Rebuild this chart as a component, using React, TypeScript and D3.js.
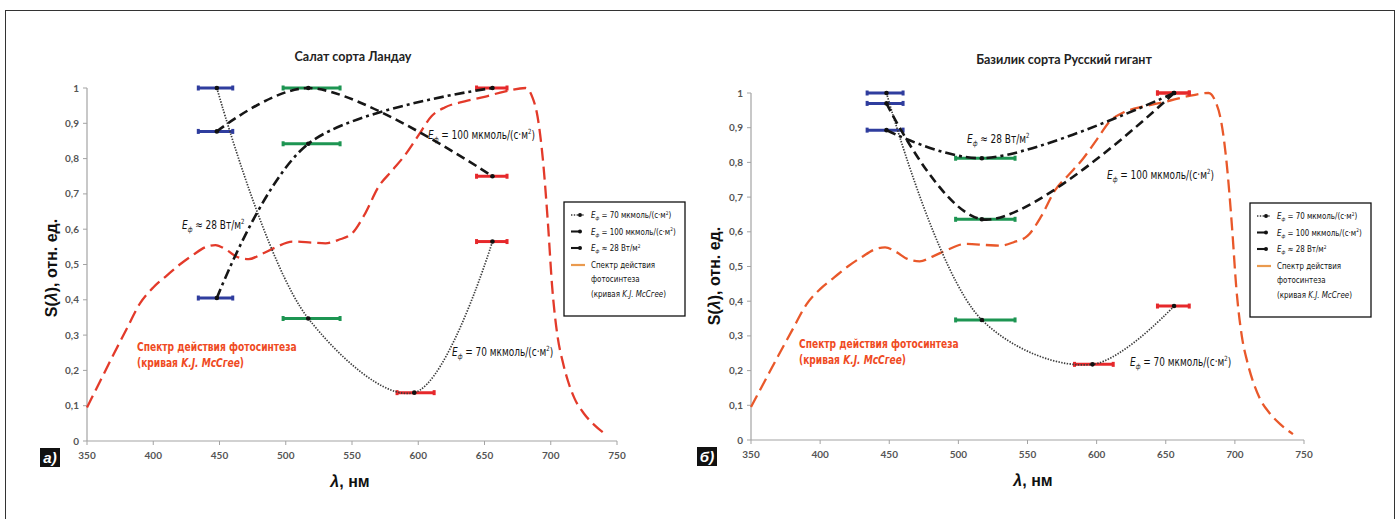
import React from "react";
import * as d3 from "d3";

// axis ticks
const wavelengthTicks = [350, 400, 450, 500, 550, 600, 650, 700, 750];
const valueTicks = [0, 0.1, 0.2, 0.3, 0.4, 0.5, 0.6, 0.7, 0.8, 0.9, 1];
const valueTickLabels = ["0", "0,1", "0,2", "0,3", "0,4", "0,5", "0,6", "0,7", "0,8", "0,9", "1"];

// LED bands: peak wavelength and spectral width, nm
const ledPeak = [448, 517, 597, 656];
const ledFrom = [434, 498, 584, 644];
const ledTo = [460, 541, 612, 667];
const ledColor = ["#2f3d9e", "#1d9552", "#e6282b", "#e6282b"];

// McCree photosynthesis action spectrum
const mccreeNm = [350, 360, 370, 380, 390, 400, 410, 420, 430, 440, 447, 455, 463, 472, 482, 492, 505, 520, 530, 540, 550, 560, 570, 580, 590, 600, 610, 620, 635, 650, 665, 681, 686, 690, 694, 698, 701, 705, 709, 713, 718, 725, 733, 742];
const mccreeVal = [0.095, 0.17, 0.245, 0.318, 0.39, 0.435, 0.468, 0.5, 0.527, 0.55, 0.555, 0.542, 0.522, 0.515, 0.53, 0.548, 0.565, 0.562, 0.56, 0.57, 0.588, 0.645, 0.72, 0.765, 0.81, 0.865, 0.92, 0.945, 0.962, 0.975, 0.99, 1.0, 0.975, 0.92, 0.8, 0.61, 0.44, 0.3, 0.225, 0.17, 0.12, 0.078, 0.045, 0.017];

// bands used by each series
const bandsE70 = [0, 1, 2, 3];
const bandsE100 = [0, 1, 3];
const bandsE28 = [0, 1, 3];

// lettuce "Ландау"
const lettuceE70 = [1.0, 0.347, 0.137, 0.565];
const lettuceE100 = [0.877, 1.0, 0.75];
const lettuceE28 = [0.405, 0.842, 1.0];

// basil "Русский гигант"
const basilE70 = [1.0, 0.346, 0.218, 0.386];
const basilE100 = [0.97, 0.636, 1.0];
const basilE28 = [0.893, 0.812, 1.0];

const NARROW = "'Liberation Sans Narrow', 'DejaVu Sans Condensed', 'Liberation Sans', sans-serif";
const SANS = "'Liberation Sans', Arial, sans-serif";
const TICKF = "Lato, 'Open Sans', sans-serif";

const styles = {
  e70: { stroke: "#3b3b3b", width: 1.7, dash: "1.4,1.4" },
  e100: { stroke: "#161616", width: 2.6, dash: "9,5" },
  e28: { stroke: "#161616", width: 2.6, dash: "10,4,3,4" },
};

// E with subscript ф, drawn horizontally condensed like Arial Narrow
const EPhi = ({ x, y, size, pre, sup, post, sx }: any) => (
  <g transform={`translate(${x},${y}) scale(${sx},1)`}>
    <text x={0} y={0} fontSize={size} fontFamily={NARROW} fill="#111">
      <tspan fontStyle="italic">E</tspan>
      <tspan fontStyle="italic" fontSize={size * 0.62} dy={size * 0.28}>ф</tspan>
      <tspan dy={-size * 0.28}>{" " + pre}</tspan>
      <tspan fontSize={size * 0.6} dy={-size * 0.38}>{sup}</tspan>
      <tspan dy={size * 0.38}>{post}</tspan>
    </text>
  </g>
);

const Panel = (p: any) => {
  const x = d3.scaleLinear().domain([350, 750]).range([p.x0, p.x1]);
  const y = d3.scaleLinear().domain([0, 1]).range([p.y0, p.y1]);

  const smooth = d3
    .line<[number, number]>()
    .x((d) => x(d[0]))
    .y((d) => y(d[1]))
    .curve(d3.curveCatmullRom.alpha(0.5));
  const mccreeLine = d3
    .line<number>()
    .x((_, i) => x(mccreeNm[i]))
    .y((d) => y(d))
    .curve(d3.curveMonotoneX);

  const series = [
    { key: "e70", vals: p.e70, bands: bandsE70 },
    { key: "e100", vals: p.e100, bands: bandsE100 },
    { key: "e28", vals: p.e28, bands: bandsE28 },
  ];

  const lg = p.legend;
  const legendRows = [
    { key: "e70", pre: "= 70 мкмоль/(с·м", sup: "2", post: ")" },
    { key: "e100", pre: "= 100 мкмоль/(с·м", sup: "2", post: ")" },
    { key: "e28", pre: "≈ 28 Вт/м", sup: "2", post: "" },
  ];

  return (
    <g>
      <text x={p.titleX} y={p.titleY} textAnchor="middle" fontFamily={TICKF} fontWeight="bold" fontSize={12.5} fill="#222">
        {p.title}
      </text>

      {/* axes */}
      <line x1={p.x0} x2={p.x0} y1={p.y0} y2={p.y1} stroke="#a3a3a3" strokeWidth={1.2} />
      <line x1={p.x0} x2={p.x1} y1={p.y0} y2={p.y0} stroke="#a3a3a3" strokeWidth={1.2} />
      {valueTicks.map((t, i) => (
        <g key={"y" + t}>
          <line x1={p.x0 - 4} x2={p.x0} y1={y(t)} y2={y(t)} stroke="#a3a3a3" />
          <text x={p.x0 - 8} y={y(t) + 3.5} textAnchor="end" fontFamily={TICKF} fontWeight="bold" fontSize={10} fill="#555">
            {valueTickLabels[i]}
          </text>
        </g>
      ))}
      {wavelengthTicks.map((t) => (
        <g key={"x" + t}>
          <line x1={x(t)} x2={x(t)} y1={p.y0} y2={p.y0 + 4} stroke="#a3a3a3" />
          <text x={x(t)} y={p.y0 + 18} textAnchor="middle" fontFamily={TICKF} fontWeight="bold" fontSize={10} fill="#555">
            {t}
          </text>
        </g>
      ))}

      {/* axis titles */}
      <text
        transform={`translate(${p.yLabelX},${p.yLabelY}) rotate(-90)`}
        textAnchor="middle"
        fontFamily={SANS}
        fontWeight="bold"
        fontSize={16}
        fill="#111"
      >
        S(<tspan fontStyle="italic">λ</tspan>), отн. ед.
      </text>
      <text x={p.xLabelX} y={p.xLabelY} textAnchor="middle" fontFamily={SANS} fontWeight="bold" fontSize={16} fill="#111">
        <tspan fontStyle="italic">λ</tspan>, нм
      </text>

      {/* panel letter */}
      <rect x={p.letterX} y={p.letterY} width={20} height={19} fill="#111" />
      <text x={p.letterX + 10} y={p.letterY + 15} textAnchor="middle" fontFamily={SANS} fontWeight="bold" fontStyle="italic" fontSize={15} fill="#fff">
        {p.letter}
      </text>

      {/* action spectrum */}
      <path d={mccreeLine(mccreeVal) || ""} fill="none" stroke={p.mccreeColor} strokeWidth={2.3} strokeDasharray="13,6" />

      {/* LED band bars */}
      {series.map((s) =>
        s.vals.map((v: number, i: number) => {
          const b = s.bands[i];
          return (
            <g key={s.key + "b" + i}>
              <line x1={x(ledFrom[b])} x2={x(ledTo[b])} y1={y(v)} y2={y(v)} stroke={ledColor[b]} strokeWidth={3} />
              <rect x={x(ledFrom[b]) - 1.5} y={y(v) - 2.5} width={3} height={5} fill={ledColor[b]} />
              <rect x={x(ledTo[b]) - 1.5} y={y(v) - 2.5} width={3} height={5} fill={ledColor[b]} />
            </g>
          );
        })
      )}

      {/* spectra of plant response */}
      {series.map((s) => {
        const st = (styles as any)[s.key];
        const pts: [number, number][] = s.vals.map((v: number, i: number) => [ledPeak[s.bands[i]], v]);
        return (
          <g key={s.key}>
            <path d={smooth(pts) || ""} fill="none" stroke={st.stroke} strokeWidth={st.width} strokeDasharray={st.dash} />
            {pts.map((d, i) => (
              <circle key={i} cx={x(d[0])} cy={y(d[1])} r={2.3} fill="#111" />
            ))}
          </g>
        );
      })}

      {/* annotations */}
      <EPhi x={p.n28[0]} y={p.n28[1]} size={12} sx={0.83} pre="≈ 28 Вт/м" sup="2" post="" />
      <EPhi x={p.n100[0]} y={p.n100[1]} size={12} sx={0.83} pre="= 100 мкмоль/(с·м" sup="2" post=")" />
      <EPhi x={p.n70[0]} y={p.n70[1]} size={12} sx={0.83} pre="= 70 мкмоль/(с·м" sup="2" post=")" />
      <g transform={`translate(${p.red[0]},${p.red[1]}) scale(0.81,1)`}>
        <text x={0} y={0} fontFamily={NARROW} fontWeight="bold" fontSize={12.5} fill="#ef4a23">
          Спектр действия фотосинтеза
        </text>
        <text x={0} y={16} fontFamily={NARROW} fontWeight="bold" fontSize={12.5} fill="#ef4a23">
          (кривая <tspan fontStyle="italic">K.J. McCгее</tspan>)
        </text>
      </g>

      {/* legend */}
      <rect x={lg[0]} y={lg[1]} width={121} height={114} fill="#fff" stroke="#111" strokeWidth={1.3} />
      {legendRows.map((r, i) => {
        const st = (styles as any)[r.key];
        const yy = lg[1] + 13 + i * 16.5;
        return (
          <g key={r.key}>
            <line x1={lg[0] + 7} x2={lg[0] + 21} y1={yy} y2={yy} stroke={st.stroke} strokeWidth={st.width * 0.8} strokeDasharray={st.dash} />
            <circle cx={lg[0] + 16} cy={yy} r={2} fill="#111" />
            <EPhi x={lg[0] + 27} y={yy + 3} size={8.5} sx={0.93} pre={r.pre} sup={r.sup} post={r.post} />
          </g>
        );
      })}
      <line x1={lg[0] + 7} x2={lg[0] + 21} y1={lg[1] + 63} y2={lg[1] + 63} stroke="#ea9a4e" strokeWidth={2.2} />
      <g transform={`translate(${lg[0] + 27},${lg[1] + 66}) scale(0.93,1)`}>
        {["Спектр действия", "фотосинтеза"].map((t, i) => (
          <text key={t} x={0} y={i * 14.5} fontFamily={NARROW} fontSize={8.5} fill="#111">
            {t}
          </text>
        ))}
        <text x={0} y={29} fontFamily={NARROW} fontSize={8.5} fill="#111">
          (кривая <tspan fontStyle="italic">K.J. McCгее</tspan>)
        </text>
      </g>
    </g>
  );
};

export default function App() {
  return (
    <div style={{ position: "absolute", left: 0, top: 0 }}>
      <svg width={1400} height={519} style={{ display: "block", background: "#fff" }}>
        <rect x={5.5} y={10.5} width={1389} height={540} fill="none" stroke="#333" strokeWidth={1} />
        <Panel
          title="Салат сорта Ландау"
          titleX={353}
          titleY={61}
          x0={87}
          x1={617}
          y0={441}
          y1={88}
          e70={lettuceE70}
          e100={lettuceE100}
          e28={lettuceE28}
          mccreeColor="#e33a2a"
          n28={[182, 229]}
          n100={[428, 139]}
          n70={[452, 356]}
          red={[137, 351]}
          legend={[564, 202]}
          letter="а)"
          letterX={40}
          letterY={448}
          yLabelX={57}
          yLabelY={268}
          xLabelX={350}
          xLabelY={487}
        />
        <Panel
          title="Базилик сорта Русский гигант"
          titleX={1064}
          titleY={64}
          x0={751}
          x1={1304}
          y0={440}
          y1={93}
          e70={basilE70}
          e100={basilE100}
          e28={basilE28}
          mccreeColor="#e9582a"
          n28={[967, 143]}
          n100={[1107, 179]}
          n70={[1130, 366]}
          red={[799, 348]}
          legend={[1250, 203]}
          letter="б)"
          letterX={697}
          letterY={447}
          yLabelX={720}
          yLabelY={276}
          xLabelX={1033}
          xLabelY={486}
        />
      </svg>
    </div>
  );
}
